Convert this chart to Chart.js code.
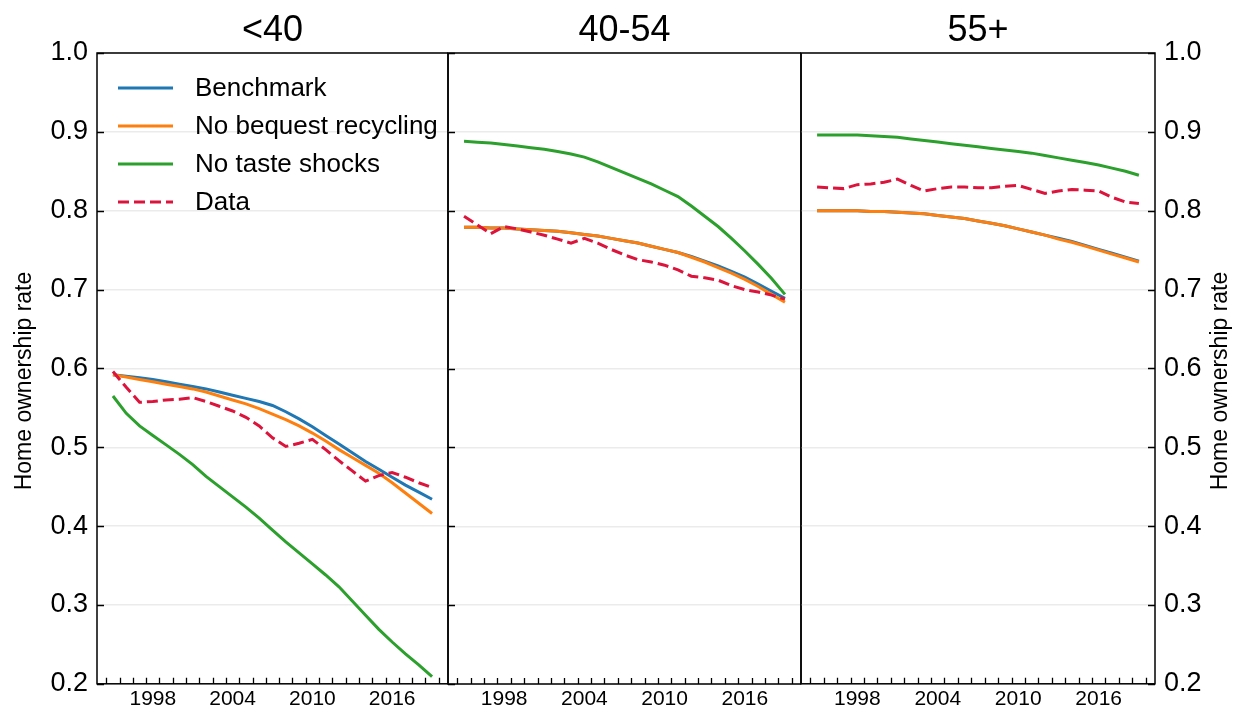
<!DOCTYPE html>
<html>
<head>
<meta charset="utf-8">
<script src="https://cdn.jsdelivr.net/npm/chart.js@4.4.1/dist/chart.umd.min.js"></script>
<style>
html, body { margin: 0; padding: 0; background: #fff; }
#wrap { position: relative; width: 1244px; height: 709px; overflow: hidden; }
#wrap canvas { position: absolute; top: 0; }
</style>
</head>
<body>
<div id="wrap">
  <canvas id="p1" width="450" height="709" style="left:0px"></canvas>
  <canvas id="p2" width="357" height="709" style="left:446px"></canvas>
  <canvas id="p3" width="445" height="709" style="left:799px"></canvas>
</div>
<script>
// years on the x axis
var years = [1995,1996,1997,1998,1999,2000,2001,2002,2003,2004,2005,2006,2007,2008,
             2009,2010,2011,2012,2013,2014,2015,2016,2017,2018,2019];
var xTickYears = [1998, 2004, 2010, 2016];
var yTickVals = [0.2, 0.3, 0.4, 0.5, 0.6, 0.7, 0.8, 0.9, 1.0];
var seriesNames = ['Benchmark', 'No bequest recycling', 'No taste shocks', 'Data'];

// <40
var bench1   = [0.592,0.590,0.588,0.586,0.583,0.580,0.577,0.574,0.570,0.566,0.562,0.558,0.553,0.545,0.536,0.526,0.515,0.504,0.493,0.482,0.472,0.462,0.452,0.443,0.434];
var noBeq1   = [0.592,0.589,0.586,0.583,0.580,0.577,0.574,0.570,0.565,0.560,0.555,0.549,0.542,0.535,0.527,0.518,0.508,0.497,0.487,0.477,0.467,0.455,0.442,0.429,0.416];
var noTaste1 = [0.565,0.543,0.527,0.515,0.503,0.491,0.478,0.463,0.450,0.437,0.424,0.410,0.395,0.380,0.366,0.352,0.338,0.323,0.305,0.287,0.269,0.253,0.238,0.224,0.209];
var data1    = [0.596,0.576,0.557,0.558,0.560,0.561,0.563,0.558,0.552,0.546,0.538,0.527,0.512,0.501,0.505,0.510,0.497,0.483,0.470,0.457,0.464,0.468,0.462,0.455,0.449];

// 40-54
var bench2   = [0.779,0.779,0.778,0.778,0.777,0.776,0.775,0.774,0.772,0.770,0.768,0.765,0.762,0.759,0.755,0.751,0.747,0.742,0.736,0.730,0.723,0.716,0.707,0.698,0.689];
var noBeq2   = [0.779,0.779,0.778,0.778,0.777,0.776,0.775,0.774,0.772,0.770,0.768,0.765,0.762,0.759,0.755,0.751,0.747,0.741,0.735,0.728,0.721,0.713,0.704,0.694,0.684];
var noTaste2 = [0.888,0.887,0.886,0.884,0.882,0.880,0.878,0.875,0.872,0.868,0.862,0.855,0.848,0.841,0.834,0.826,0.818,0.806,0.793,0.780,0.765,0.749,0.732,0.714,0.694];
var data2    = [0.793,0.782,0.771,0.780,0.777,0.773,0.769,0.764,0.759,0.765,0.759,0.751,0.744,0.738,0.735,0.731,0.725,0.717,0.715,0.712,0.705,0.700,0.697,0.693,0.688];

// 55+
var bench3   = [0.800,0.800,0.800,0.800,0.799,0.799,0.798,0.797,0.796,0.794,0.792,0.790,0.787,0.784,0.781,0.777,0.773,0.769,0.765,0.761,0.756,0.751,0.746,0.741,0.736];
var noBeq3   = [0.800,0.800,0.800,0.800,0.799,0.799,0.798,0.797,0.796,0.794,0.792,0.790,0.787,0.784,0.781,0.777,0.773,0.769,0.764,0.760,0.755,0.750,0.745,0.740,0.735];
var noTaste3 = [0.896,0.896,0.896,0.896,0.895,0.894,0.893,0.891,0.889,0.887,0.885,0.883,0.881,0.879,0.877,0.875,0.873,0.870,0.867,0.864,0.861,0.858,0.854,0.850,0.845];
var data3    = [0.830,0.829,0.828,0.833,0.834,0.836,0.840,0.832,0.825,0.828,0.830,0.830,0.829,0.829,0.831,0.832,0.827,0.822,0.825,0.827,0.826,0.825,0.817,0.811,0.809];

var FONT = '"Liberation Sans", Arial, Helvetica, sans-serif';
var colors = ['#1f77b4', '#ff7f0e', '#2ca02c', '#dc143c'];
var DASH = [11, 5];

// frame, inward ticks, panel title, axis title and legend
var framePlugin = {
  id: 'frame',
  afterDraw: function (chart, args, o) {
    var ctx = chart.ctx, a = chart.chartArea;
    var x = chart.scales.x, y = chart.scales.y;
    ctx.save();
    ctx.strokeStyle = '#000';
    ctx.lineWidth = 1.3;
    ctx.beginPath();
    yTickVals.forEach(function (v) {
      var py = Math.round(y.getPixelForValue(v)) + 0.5;
      if (o.tickSide === 'left') { ctx.moveTo(a.left, py); ctx.lineTo(a.left + 7, py); }
      else { ctx.moveTo(a.right, py); ctx.lineTo(a.right - 7, py); }
    });
    years.concat([years[years.length - 1] + 1]).forEach(function (v) {
      var px = Math.round(x.getPixelForValue(v - 0.5)) + 0.5;
      ctx.moveTo(px, a.bottom); ctx.lineTo(px, a.bottom - 6);
    });
    ctx.stroke();
    ctx.lineWidth = 1.5;
    ctx.strokeRect(a.left, a.top, a.right - a.left, a.bottom - a.top);

    ctx.fillStyle = '#000';
    ctx.textAlign = 'center';
    ctx.textBaseline = 'middle';
    ctx.font = '36px ' + FONT;
    ctx.fillText(o.title, (a.left + a.right) / 2, 31);

    if (o.yTitleX) {
      ctx.save();
      ctx.font = '23px ' + FONT;
      ctx.translate(o.yTitleX, 381);
      ctx.rotate(-Math.PI / 2);
      ctx.fillText('Home ownership rate', 0, 0);
      ctx.restore();
    }

    if (o.legend) {
      ctx.font = '26px ' + FONT;
      ctx.textAlign = 'left';
      chart.data.datasets.forEach(function (ds, i) {
        var ly = 88 + i * 38;
        ctx.save();
        ctx.strokeStyle = ds.borderColor;
        ctx.lineWidth = 3;
        ctx.setLineDash(ds.borderDash || []);
        ctx.beginPath();
        ctx.moveTo(a.left + 21, ly); ctx.lineTo(a.left + 76, ly);
        ctx.stroke();
        ctx.restore();
        ctx.fillText(ds.label, a.left + 98, ly + 1);
      });
    }
    ctx.restore();
  }
};

function makePanel(id, title, series, cfg) {
  var datasets = series.map(function (vals, i) {
    return {
      label: seriesNames[i],
      data: vals.map(function (v, k) { return { x: years[k], y: v }; }),
      borderColor: colors[i],
      backgroundColor: colors[i],
      borderWidth: 3,
      borderDash: i === 3 ? DASH : [],
      pointRadius: 0,
      tension: 0,
      fill: false,
      order: 4 - i
    };
  });
  return new Chart(document.getElementById(id), {
    type: 'line',
    data: { datasets: datasets },
    plugins: [framePlugin],
    options: {
      responsive: false,
      animation: false,
      layout: { padding: cfg.padding },
      plugins: {
        legend: { display: false },
        tooltip: { enabled: false },
        frame: { title: title, legend: cfg.legend, yTitleX: cfg.yTitleX, tickSide: cfg.tickSide }
      },
      scales: {
        x: {
          type: 'linear', min: 1993.8, max: 2020.2,
          grid: { display: false, drawTicks: false },
          border: { display: false },
          ticks: {
            color: '#000', font: { family: FONT, size: 21 }, padding: 3,
            maxRotation: 0, autoSkip: false,
            callback: function (v) { return String(v); }
          },
          afterBuildTicks: function (s) { s.ticks = xTickYears.map(function (v) { return { value: v }; }); },
          afterFit: function (s) { s.height = 25; }
        },
        y: {
          type: 'linear', position: cfg.yPos, min: 0.2, max: 1.0,
          grid: { color: '#ebebeb', lineWidth: 1.5, drawTicks: false },
          border: { display: false },
          ticks: {
            display: cfg.yLabels, color: '#000', font: { family: FONT, size: 27 }, padding: 9,
            callback: function (v) { return v.toFixed(1); }
          },
          afterBuildTicks: function (s) { s.ticks = yTickVals.map(function (v) { return { value: v }; }); },
          afterFit: function (s) { s.width = cfg.yWidth; }
        }
      }
    }
  });
}

makePanel('p1', '<40', [bench1, noBeq1, noTaste1, data1],
  { padding: { top: 53, right: 2, left: 0, bottom: 0 }, yPos: 'left', yLabels: true, yWidth: 97, legend: true, yTitleX: 25, tickSide: 'left' });
makePanel('p2', '40-54', [bench2, noBeq2, noTaste2, data2],
  { padding: { top: 53, right: 2, left: 2, bottom: 0 }, yPos: 'left', yLabels: false, yWidth: 0, legend: false, yTitleX: null, tickSide: 'left' });
makePanel('p3', '55+', [bench3, noBeq3, noTaste3, data3],
  { padding: { top: 53, right: 0, left: 2, bottom: 0 }, yPos: 'right', yLabels: true, yWidth: 89, legend: false, yTitleX: 422, tickSide: 'right' });
</script>
</body>
</html>
